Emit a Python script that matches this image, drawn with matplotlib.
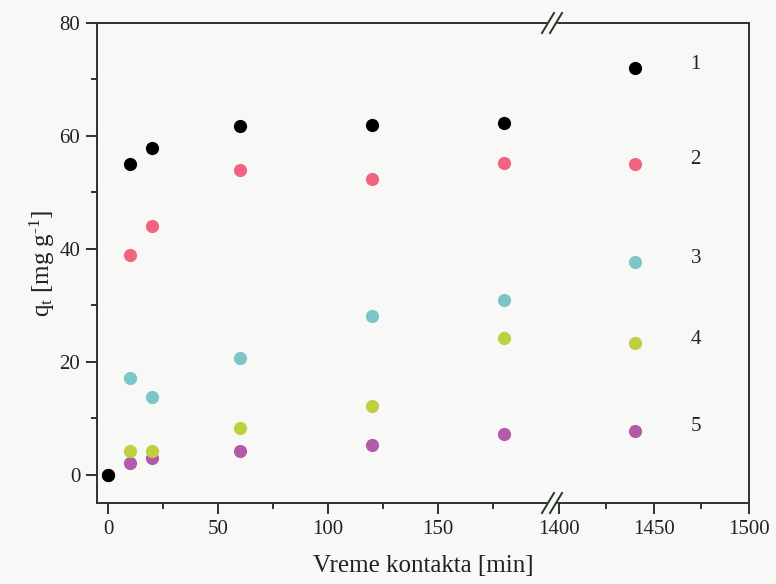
import matplotlib.pyplot as plt
from matplotlib.lines import Line2D
from matplotlib.patches import Rectangle

plt.rcParams['font.family'] = 'Liberation Serif'
plt.rcParams['mathtext.fontset'] = 'custom'
plt.rcParams['mathtext.rm'] = 'Liberation Serif'
plt.rcParams['mathtext.it'] = 'Liberation Serif:italic'

# vreme kontakta [min]
vreme = [0, 10, 20, 60, 120, 180, 1440]

# q_t [mg/g] za uzorke 1-5
q1 = [0, 55.1, 57.9, 61.8, 61.9, 62.3, 72.0]
q2 = [0, 39.0, 44.1, 54.0, 52.4, 55.2, 55.1]
q3 = [0, 17.1, 13.8, 20.6, 28.2, 31.0, 37.6]
q4 = [0, 4.2, 4.2, 8.3, 12.2, 24.2, 23.3]
q5 = [0, 2.1, 3.0, 4.2, 5.3, 7.2, 7.8]

oznake = ['1', '2', '3', '4', '5']
boje = ['#000000', '#f0647f', '#7cc6c8', '#bed03f', '#b45aa8']
serije = [q1, q2, q3, q4, q5]

W, H = 776, 584
fig = plt.figure(figsize=(W / 100, H / 100), dpi=100, facecolor='#f8f8f6')

x0, xb, x1 = 97, 552, 749   # levi rub, prekid, desni rub (px)
y0, y1 = 503, 23            # donji i gornji rub (px)
ax1 = fig.add_axes([x0 / W, 1 - y0 / H, (xb - x0) / W, (y0 - y1) / H])
ax2 = fig.add_axes([xb / W, 1 - y0 / H, (x1 - xb) / W, (y0 - y1) / H], sharey=ax1)

osa = '#2a332c'
for ax in (ax1, ax2):
    ax.set_facecolor('#f8f8f6')
    for q, c in zip(serije[::-1], boje[::-1]):
        ax.plot(vreme, q, 'o', color=c, markersize=9.5, markeredgewidth=0, clip_on=True)
    for s in ax.spines.values():
        s.set_color(osa)
        s.set_linewidth(1.4)
    ax.tick_params(which='both', direction='out', colors=osa, labelcolor='#222222',
                   labelsize=15, width=1.4)
    ax.tick_params(which='major', length=8, pad=4)
    ax.tick_params(which='minor', length=4)

ax1.set_xlim(-5, 202)
ax2.set_xlim(1396.4, 1500)
ax1.set_ylim(-5, 80)

ax1.set_xticks([0, 50, 100, 150])
ax1.set_xticks([25, 75, 125, 175], minor=True)
ax2.set_xticks([1400, 1450, 1500])
ax2.set_xticks([1425, 1475], minor=True)
ax1.set_yticks([0, 20, 40, 60, 80])
ax1.set_yticks([10, 30, 50, 70], minor=True)

ax1.spines['right'].set_visible(False)
ax2.spines['left'].set_visible(False)
ax2.tick_params(which='both', left=False, labelleft=False)

# oznake uzoraka desno od poslednje tacke
for q, lab in zip(serije, oznake):
    ax2.annotate(lab, (vreme[-1], q[-1]), xytext=(40, 3), textcoords='offset points',
                 fontsize=15, color='#222222', va='center', ha='left')

ax1.set_ylabel(r'q$_\mathrm{t}$ [mg g$^{\text{-1}}$]', fontsize=18, color='#222222', labelpad=2)
fig.text((x0 + x1) / 2 / W, 1 - 566 / H, 'Vreme kontakta [min]', fontsize=18,
         color='#222222', ha='center', va='center')

# znak prekida ose
for yp in (y0, y1):
    fig.add_artist(Rectangle(((xb - 4) / W, 1 - (yp + 3) / H), 8 / W, 6 / H,
                             transform=fig.transFigure, color='#f8f8f6', zorder=5))
    for dx in (-4, 4):
        cx = xb + dx
        fig.add_artist(Line2D([(cx - 6) / W, (cx + 6) / W],
                              [1 - (yp + 10) / H, 1 - (yp - 10) / H],
                              transform=fig.transFigure, color=osa, lw=1.4, zorder=6))

fig.savefig('out.png', dpi=100, facecolor=fig.get_facecolor())
